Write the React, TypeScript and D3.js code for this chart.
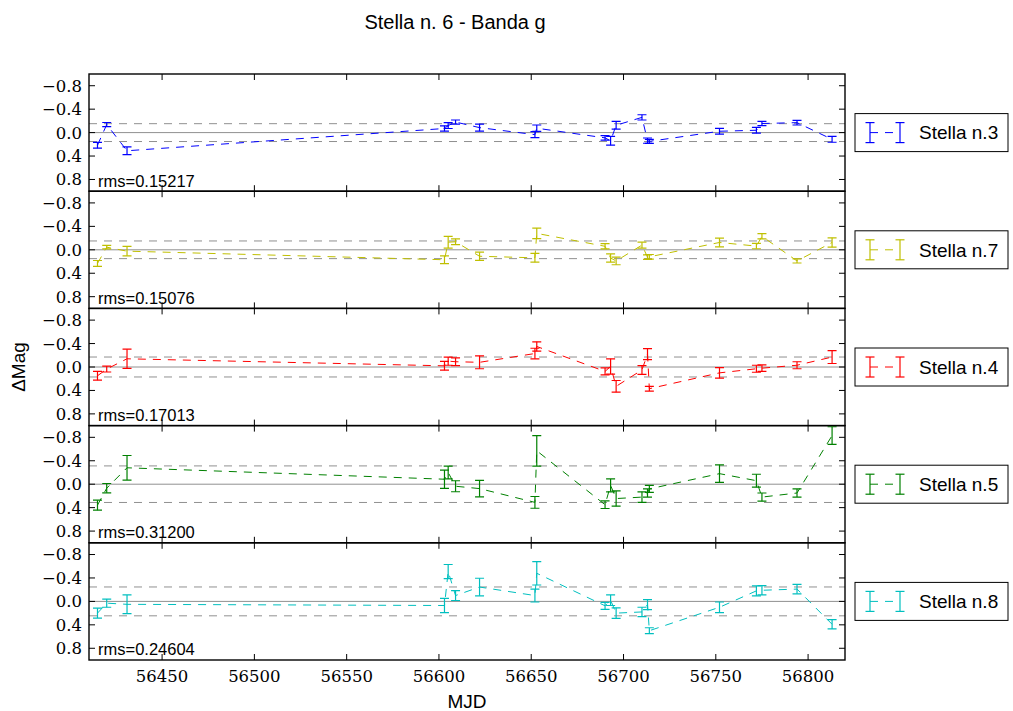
import React from "react";
import * as d3 from "d3";

const MJD = [56415, 56420, 56431, 56603, 56605, 56609, 56622, 56652, 56653, 56690, 56693, 56696, 56710, 56713, 56714, 56752, 56772, 56775, 56794, 56813];

const STAR_NAMES = ["Stella n.3", "Stella n.7", "Stella n.4", "Stella n.5", "Stella n.8"];
const STAR_COLORS = ["#0000ff", "#bfbf00", "#ff0000", "#008000", "#00bfbf"];
const RMS = [0.15217, 0.15076, 0.17013, 0.312, 0.24604];
const RMS_LABELS = ["rms=0.15217", "rms=0.15076", "rms=0.17013", "rms=0.31200", "rms=0.24604"];

const star3 = [0.216, -0.137, 0.31, -0.07, -0.12, -0.18, -0.085, 0.035, -0.075, 0.09, 0.14, -0.125, -0.26, 0.137, 0.15, -0.023, -0.04, -0.155, -0.17, 0.115];
const star3Err = [0.05, 0.035, 0.065, 0.045, 0.05, 0.035, 0.06, 0.05, 0.055, 0.04, 0.075, 0.065, 0.045, 0.045, 0.035, 0.05, 0.05, 0.035, 0.04, 0.05];

const star7 = [0.233, -0.045, 0.023, 0.17, -0.13, -0.137, 0.11, 0.137, -0.28, -0.06, 0.14, 0.19, -0.08, 0.125, 0.12, -0.125, -0.063, -0.23, 0.19, -0.125];
const star7Err = [0.05, 0.03, 0.08, 0.065, 0.1, 0.05, 0.07, 0.075, 0.09, 0.045, 0.07, 0.065, 0.05, 0.04, 0.04, 0.075, 0.045, 0.045, 0.035, 0.08];

const star4 = [0.15, 0.035, -0.14, -0.02, -0.1, -0.09, -0.08, -0.23, -0.35, 0.075, -0.01, 0.33, 0.05, -0.22, 0.37, 0.1, 0.03, 0.02, -0.03, -0.17];
const star4Err = [0.075, 0.05, 0.165, 0.075, 0.07, 0.065, 0.11, 0.09, 0.08, 0.06, 0.13, 0.1, 0.075, 0.095, 0.04, 0.09, 0.06, 0.055, 0.06, 0.11];

const star5 = [0.358, 0.068, -0.28, -0.085, -0.2, 0.035, 0.075, 0.31, -0.57, 0.35, 0.02, 0.245, 0.22, 0.15, 0.08, -0.18, -0.06, 0.22, 0.15, -0.83];
const star5Err = [0.085, 0.08, 0.21, 0.156, 0.11, 0.094, 0.14, 0.1, 0.26, 0.065, 0.11, 0.13, 0.09, 0.07, 0.06, 0.15, 0.11, 0.07, 0.07, 0.15];

const star8 = [0.2, 0.03, 0.05, 0.07, -0.51, -0.1, -0.245, -0.1, -0.48, 0.075, -0.02, 0.2, 0.18, 0.055, 0.5, 0.1, -0.18, -0.19, -0.21, 0.39];
const star8Err = [0.085, 0.07, 0.16, 0.12, 0.12, 0.085, 0.15, 0.11, 0.2, 0.06, 0.09, 0.09, 0.08, 0.085, 0.05, 0.09, 0.085, 0.08, 0.08, 0.08];

const SERIES = [star3, star7, star4, star5, star8];
const ERRORS = [star3Err, star7Err, star4Err, star5Err, star8Err];

const X_TICKS = [56450, 56500, 56550, 56600, 56650, 56700, 56750, 56800];
const Y_TICKS = [-0.8, -0.4, 0.0, 0.4, 0.8];

const W = 1013;
const H = 711;
const LEFT = 89;
const RIGHT = 845;
const TOP = 74;
const PANEL_H = 117.2;
const SANS = "'Liberation Sans', Arial, sans-serif";
const SERIF = "'DejaVu Serif', 'Liberation Serif', serif";
const TICK = 6;
const CAP = 4.5;

const fmtY = (v: number) => {
  const s = Math.abs(v).toFixed(1);
  return v < 0 ? "\u2212" + s : s;
};

function Panel({ i }: { i: number }) {
  const top = TOP + i * PANEL_H;
  const bottom = top + PANEL_H;
  const x = d3.scaleLinear().domain([56410.4, 56820]).range([LEFT, RIGHT]);
  const y = d3.scaleLinear().domain([-1, 1]).range([top, bottom]);
  const color = STAR_COLORS[i];
  const vals = SERIES[i];
  const errs = ERRORS[i];
  const line = d3
    .line<number>()
    .x((_, k) => x(MJD[k]))
    .y((v) => y(v));
  const clipId = `clip${i}`;
  const rms = RMS[i];
  const cy = (top + bottom) / 2;
  return (
    <g>
      <defs>
        <clipPath id={clipId}>
          <rect x={LEFT} y={top} width={RIGHT - LEFT} height={PANEL_H} />
        </clipPath>
      </defs>
      <g clipPath={`url(#${clipId})`}>
        <line x1={LEFT} x2={RIGHT} y1={y(0)} y2={y(0)} stroke="#909090" strokeWidth={1} />
        <line x1={LEFT} x2={RIGHT} y1={y(rms)} y2={y(rms)} stroke="#909090" strokeWidth={1} strokeDasharray="8,7" />
        <line x1={LEFT} x2={RIGHT} y1={y(-rms)} y2={y(-rms)} stroke="#909090" strokeWidth={1} strokeDasharray="8,7" />
        <path d={line(vals) || ""} fill="none" stroke={color} strokeWidth={1} strokeDasharray="8,7" />
        {vals.map((v, k) => {
          const px = x(MJD[k]);
          const y1 = y(v - errs[k]);
          const y2 = y(v + errs[k]);
          return (
            <g key={k} stroke={color} strokeWidth={1.2}>
              <line x1={px} x2={px} y1={y1} y2={y2} />
              <line x1={px - CAP} x2={px + CAP} y1={y1} y2={y1} />
              <line x1={px - CAP} x2={px + CAP} y1={y2} y2={y2} />
            </g>
          );
        })}
      </g>
      <rect x={LEFT} y={top} width={RIGHT - LEFT} height={PANEL_H} fill="none" stroke="#000" strokeWidth={1.4} />
      {Y_TICKS.map((t) => (
        <g key={t}>
          <line x1={LEFT} x2={LEFT + TICK} y1={y(t)} y2={y(t)} stroke="#000" strokeWidth={1} />
          <line x1={RIGHT} x2={RIGHT - TICK} y1={y(t)} y2={y(t)} stroke="#000" strokeWidth={1} />
          <text x={LEFT - 7} y={y(t)} dy="0.36em" textAnchor="end" fontFamily={SERIF} fontSize={16.5} fill="#000">
            {fmtY(t)}
          </text>
        </g>
      ))}
      {X_TICKS.map((t) => (
        <g key={t}>
          <line x1={x(t)} x2={x(t)} y1={top} y2={top + TICK} stroke="#000" strokeWidth={1} />
          <line x1={x(t)} x2={x(t)} y1={bottom} y2={bottom - TICK} stroke="#000" strokeWidth={1} />
          {i === 4 && (
            <text x={x(t)} y={bottom + 22} textAnchor="middle" fontFamily={SERIF} fontSize={16.5} fill="#000">
              {t}
            </text>
          )}
        </g>
      ))}
      <text x={98} y={bottom - 4.7} fontFamily={SANS} fontSize={16.5} fill="#000">
        {RMS_LABELS[i]}
      </text>
      <g>
        <rect x={855} y={cy - 19} width={153} height={38} fill="#fff" stroke="#000" strokeWidth={1} />
        <line x1={870} x2={900} y1={cy} y2={cy} stroke={color} strokeWidth={1} strokeDasharray="8,7" />
        {[870, 900].map((lx) => (
          <g key={lx} stroke={color} strokeWidth={1.2}>
            <line x1={lx} x2={lx} y1={cy - 10} y2={cy + 10} />
            <line x1={lx - CAP} x2={lx + CAP} y1={cy - 10} y2={cy - 10} />
            <line x1={lx - CAP} x2={lx + CAP} y1={cy + 10} y2={cy + 10} />
          </g>
        ))}
        <text x={919} y={cy} dy="0.36em" fontFamily={SANS} fontSize={19} fill="#000">
          {STAR_NAMES[i]}
        </text>
      </g>
    </g>
  );
}

export default function App() {
  return (
    <svg width={W} height={H} style={{ position: "absolute", left: 0, top: 0, background: "#fff" }}>
      <rect x={0} y={0} width={W} height={H} fill="#fff" />
      <text x={455} y={29} textAnchor="middle" fontFamily={SANS} fontSize={20} fill="#000">
        Stella n. 6 - Banda g
      </text>
      {[0, 1, 2, 3, 4].map((i) => (
        <Panel key={i} i={i} />
      ))}
      <text
        transform={`translate(25, ${TOP + 2.5 * PANEL_H}) rotate(-90)`}
        textAnchor="middle"
        fontFamily={SANS}
        fontSize={19}
        fill="#000"
      >
        ΔMag
      </text>
      <text x={467} y={708} textAnchor="middle" fontFamily={SANS} fontSize={19} fill="#000">
        MJD
      </text>
    </svg>
  );
}
